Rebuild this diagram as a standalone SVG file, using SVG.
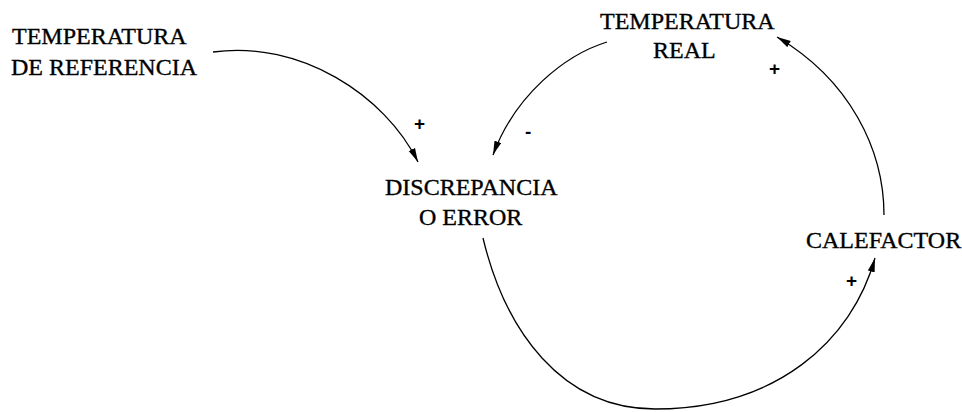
<svg xmlns="http://www.w3.org/2000/svg" width="962" height="412" viewBox="0 0 962 412">
<style>
.lbl{font-family:"Liberation Serif","Times New Roman",serif;font-size:24px;fill:#000;stroke:#000;stroke-width:0.35}
.sign{font-family:"Liberation Sans",Arial,sans-serif;font-size:19px;font-weight:bold;fill:#000}
.conn{fill:none;stroke:#000;stroke-width:1.3}
</style>
<defs>
<marker id="ah" viewBox="-14 -4 15 8" refX="0" refY="0" markerWidth="15" markerHeight="8" markerUnits="userSpaceOnUse" orient="auto">
<path d="M0,0 L-14,-3.5 L-14,3.5 Z" fill="#000"/>
</marker>
</defs>
<rect width="962" height="412" fill="#fff"/>
<g id="connectors">
<path class="conn" d="M213,52 C300,40 385,95 418,162" marker-end="url(#ah)"/>
<path class="conn" d="M607,42 C565,55 515,95 493,155" marker-end="url(#ah)"/>
<path class="conn" d="M483,238 C505,330 561,409 655,409 C776,409 852,341 875,258" marker-end="url(#ah)"/>
<path class="conn" d="M884,215 C884,150 850,80 777,37" marker-end="url(#ah)"/>
<text class="sign" x="414" y="130">+</text>
<text class="sign" x="525" y="138">-</text>
<text class="sign" x="846" y="287">+</text>
<text class="sign" x="769" y="75">+</text>
</g>
<g id="temp-ref">
<text class="lbl" x="12" y="44">TEMPERATURA</text>
<text class="lbl" x="11" y="75">DE REFERENCIA</text>
</g>
<g id="temp-real">
<text class="lbl" x="600" y="29">TEMPERATURA</text>
<text class="lbl" x="653" y="58">REAL</text>
</g>
<g id="discrepancia">
<text class="lbl" x="385" y="195">DISCREPANCIA</text>
<text class="lbl" x="419" y="225">O ERROR</text>
</g>
<g id="calefactor">
<text class="lbl" x="806" y="248">CALEFACTOR</text>
</g>
</svg>
